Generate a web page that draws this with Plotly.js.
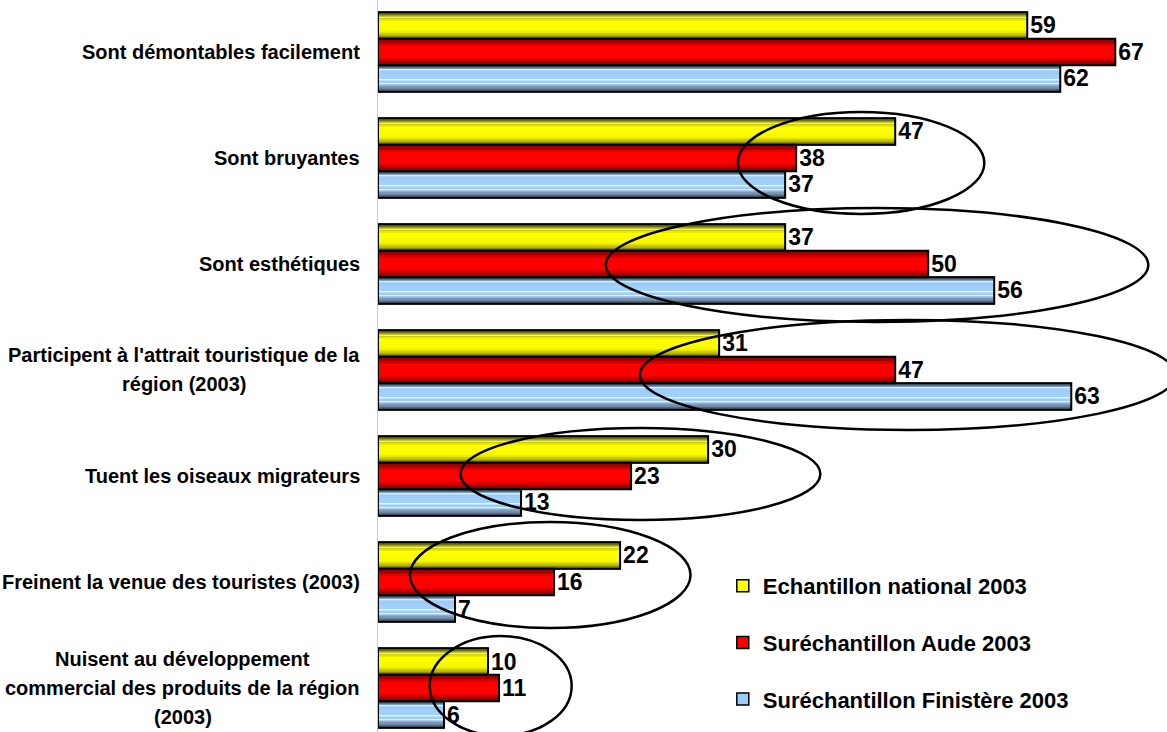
<!DOCTYPE html>
<html><head><meta charset="utf-8">
<script src="https://cdn.plot.ly/plotly-3.0.1.min.js"></script>
<style>html,body{margin:0;padding:0;background:#fff}#chart{width:1167px;height:732px}</style>
</head><body><div id="chart"></div>
<script>
// ---- data ----
const categories = [
  "Sont démontables facilement",
  "Sont bruyantes",
  "Sont esthétiques",
  "Participent à l'attrait touristique de la\nrégion (2003)",
  "Tuent les oiseaux migrateurs",
  "Freinent la venue des touristes (2003)",
  "Nuisent au développement\ncommercial des produits de la région\n(2003)"
];
const seriesNames = ["Echantillon national 2003", "Suréchantillon Aude 2003", "Suréchantillon Finistère 2003"];
const national  = [59, 47, 37, 31, 30, 22, 10];
const aude      = [67, 38, 50, 47, 23, 16, 11];
const finistere = [62, 37, 56, 63, 13, 7, 6];

// ---- styles ----
const seriesValues = [national, aude, finistere];
const baseColors = ['#ffff00', '#ff0000', '#99ccff'];
const gradients = [
  [[0,'#3c3c00'],[0.12,'#8a8a00'],[0.22,'#b8b800'],[0.34,'#ffff00'],[0.72,'#f8f800'],[0.88,'#a8a800'],[1,'#4a4a00']],
  [[0,'#5a0000'],[0.12,'#990000'],[0.3,'#ff0000'],[0.7,'#ff0000'],[0.88,'#a00000'],[1,'#500000']],
  [[0,'#2e3a48'],[0.1,'#5f7b98'],[0.2,'#9ccbf5'],[0.6,'#a6d4ff'],[0.75,'#8fb5da'],[0.9,'#5c6f84'],[1,'#34404e']]
];
const highlights = [[0.17], [], [0.15, 0.53, 0.68]];
const barW = 0.25;
const offsets = [-0.375, -0.125, 0.125];
const NSTRIPES = 18;
const labelFont = {family: "'Liberation Sans', Arial, sans-serif", size: 20, color: '#000', weight: 'bold'};
const valueFont = {family: "'Liberation Sans', Arial, sans-serif", size: 23, color: '#000', weight: 'bold'};

function hex2rgb(h){h=h.replace('#','');return [0,2,4].map(i=>parseInt(h.substr(i,2),16));}
function interp(stops, f){
  for(let i=1;i<stops.length;i++){
    if(f<=stops[i][0]){
      const a=stops[i-1], b=stops[i];
      const t=(f-a[0])/(b[0]-a[0]);
      const ca=hex2rgb(a[1]), cb=hex2rgb(b[1]);
      const c=ca.map((v,k)=>Math.round(v+(cb[k]-v)*t));
      return 'rgb('+c.join(',')+')';
    }
  }
  return stops[stops.length-1][1];
}

const yIdx = categories.map((c,i)=>i);
const traces = [];
seriesValues.forEach((vals, s) => {
  traces.push({
    type:'bar', orientation:'h', y: yIdx, x: vals, name: seriesNames[s],
    legendgroup: 'g'+s, showlegend: true, width: barW, offset: offsets[s],
    marker: {color: baseColors[s], line: {color:'#000', width: 1.5}}, hoverinfo: 'skip'
  });
  for(let k=0;k<NSTRIPES;k++){
    const f0=k/NSTRIPES, f1=(k+1)/NSTRIPES;
    traces.push({
      type:'bar', orientation:'h', y: yIdx, x: vals, showlegend:false,
      legendgroup:'g'+s, width: barW*(f1-f0)*1.02, offset: offsets[s]+barW*f0,
      marker:{color: interp(gradients[s], (f0+f1)/2), line:{width:0}}, hoverinfo:'skip'
    });
  }
  highlights[s].forEach(f => {
    traces.push({
      type:'bar', orientation:'h', y: yIdx, x: vals, showlegend:false,
      legendgroup:'g'+s, width: barW*0.04, offset: offsets[s]+barW*f,
      marker:{color:'#ffffff', line:{width:0}}, hoverinfo:'skip'
    });
  });
});
seriesValues.forEach((vals, s) => {
  traces.push({
    type:'bar', orientation:'h', y: yIdx, x: vals, showlegend:false,
    legendgroup:'g'+s, width: barW, offset: offsets[s],
    marker:{color:'rgba(0,0,0,0)', line:{color:'#000', width:2}},
    text: vals.map(String), textposition:'outside', textfont: valueFont,
    constraintext:'none', cliponaxis:false, hoverinfo:'skip'
  });
});

const cv = document.createElement('canvas').getContext('2d');
cv.font = "bold 20px 'Liberation Sans', Arial, sans-serif";
const annotations = [];
const lineH = 29;
categories.forEach((c, idx) => {
  const lines = c.split('\n');
  const maxW = Math.max(...lines.map(l => cv.measureText(l).width));
  lines.forEach((ln, i) => {
    annotations.push({
      xref:'paper', x:0, xanchor:'center', xshift: -18 - maxW/2,
      yref:'y', y: idx, yanchor:'middle', yshift: ((lines.length-1)/2 - i)*lineH,
      text: ln, showarrow:false, font: labelFont
    });
  });
});

const ell = {type:'circle', xref:'x', yref:'y', line:{color:'#000', width:2.5}, fillcolor:'rgba(0,0,0,0)', layer:'above'};
const shapes = [
  Object.assign({}, ell, {x0:32.7, x1:55.1, y0:0.566, y1:1.528}),
  Object.assign({}, ell, {x0:20.7, x1:70.0, y0:1.472, y1:2.547}),
  Object.assign({}, ell, {x0:23.8, x1:72.5, y0:2.528, y1:3.566}),
  Object.assign({}, ell, {x0:7.5,  x1:40.2, y0:3.547, y1:4.415}),
  Object.assign({}, ell, {x0:2.9,  x1:28.4, y0:4.434, y1:5.434}),
  Object.assign({}, ell, {x0:4.7,  x1:17.6, y0:5.51,  y1:6.45})
];

const layout = {
  width:1167, height:732, margin:{l:378, r:0, t:0, b:0},
  paper_bgcolor:'#fff', plot_bgcolor:'#fff', barmode:'overlay', showlegend:true,
  xaxis:{range:[0,71.7], showgrid:false, zeroline:false, showticklabels:false, showline:false, fixedrange:true, automargin:false},
  yaxis:{range:[6.415,-0.49], autorange:false, showgrid:false, zeroline:false, showticklabels:false,
         showline:true, linecolor:'#c8c8c8', linewidth:1, fixedrange:true, automargin:false},
  legend:{xref:'paper', yref:'paper', x:0.437, y:0.2281, xanchor:'left', yanchor:'top',
          font:{family:"'Liberation Sans', Arial, sans-serif", size:22, color:'#000', weight:'bold'},
          tracegroupgap:25, traceorder:'grouped', bgcolor:'rgba(0,0,0,0)'},
  shapes: shapes,
  annotations: annotations
};
Plotly.newPlot('chart', traces, layout, {displayModeBar:false, staticPlot:true});
</script></body></html>
